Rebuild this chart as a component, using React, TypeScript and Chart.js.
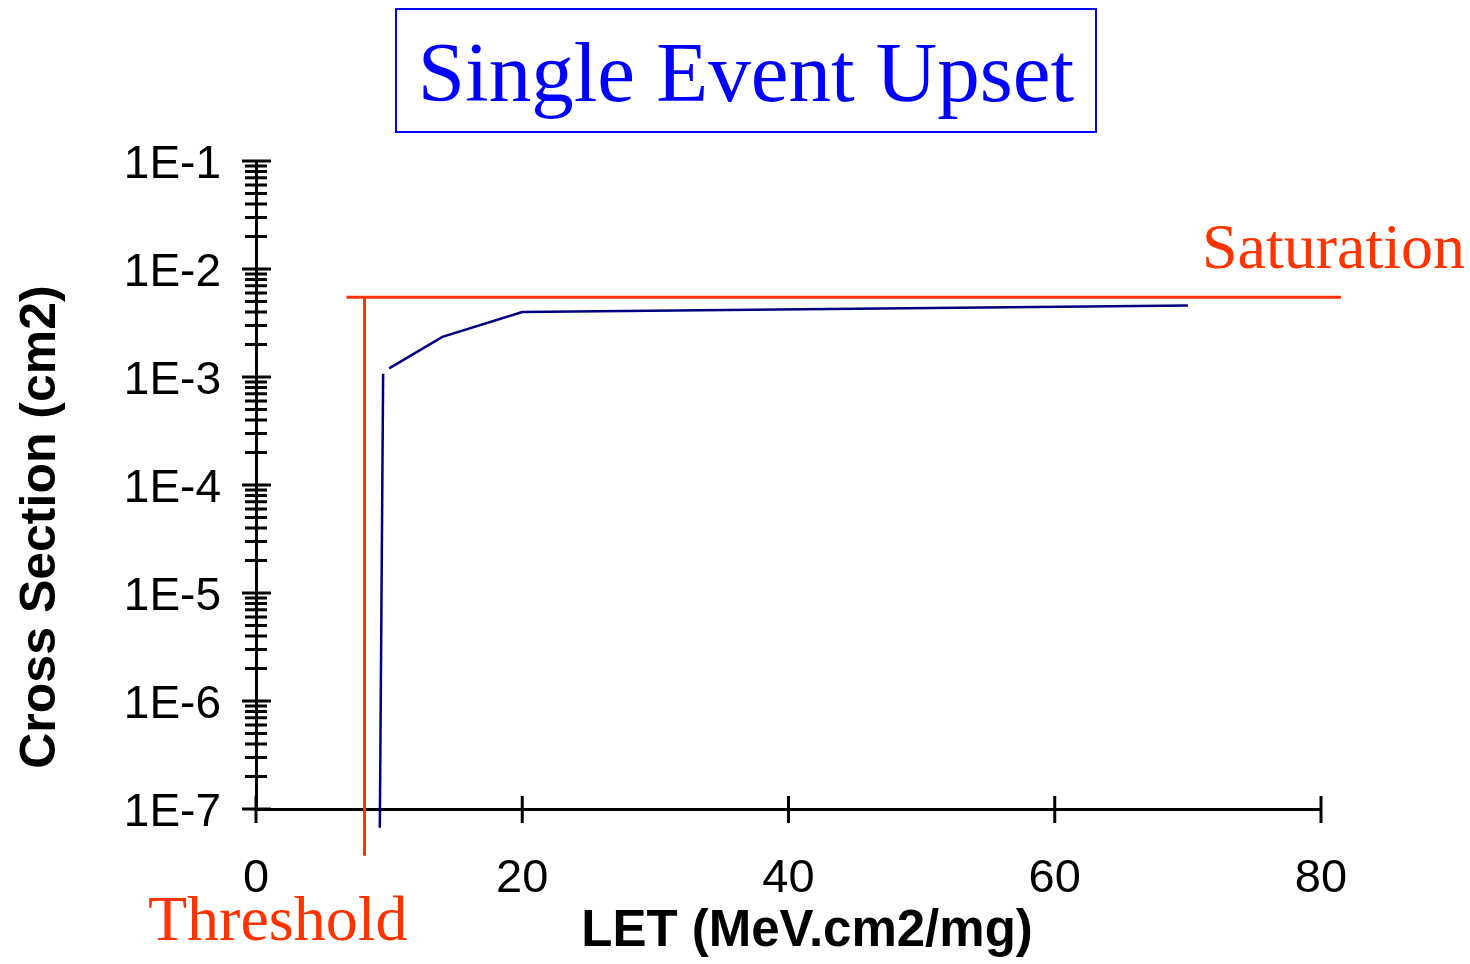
import React, { useEffect, useRef } from 'react';
import { Chart, registerables } from 'chart.js';

Chart.register(...registerables);

// ---- data ----
const riseLET = [9.3, 9.55];
const riseSigma = [6.7e-8, 1.07e-3];
const plateauLET = [10, 14, 20, 70];
const plateauSigma = [1.2e-3, 2.35e-3, 4.0e-3, 4.6e-3];
const thresholdLET = [8.15, 8.15];
const thresholdSigma = [3.7e-8, 5.47e-3];
const saturationLET = [6.8, 81.5];
const saturationSigma = [5.47e-3, 5.47e-3];

const xTicks = [0, 20, 40, 60, 80];
const yDecades = [-7, -6, -5, -4, -3, -2, -1];
const yTickLabels = ['1E-7', '1E-6', '1E-5', '1E-4', '1E-3', '1E-2', '1E-1'];

const titleText = 'Single Event Upset';
const xTitle = 'LET (MeV.cm2/mg)';
const yTitle = 'Cross Section (cm2)';
const saturationLabel = 'Saturation';
const thresholdLabel = 'Threshold';

const RED = '#FF3300';
const NAVY = '#000080';
const BLUE = '#0000FF';
const SANS = "'Liberation Sans', Arial, sans-serif";
const SERIF = "'Liberation Serif', 'Times New Roman', serif";

const toPts = (xs: number[], ys: number[]) => xs.map((x, i) => ({ x, y: ys[i] }));

function buildYTickValues() {
  const vals: { value: number; major: boolean }[] = [];
  for (let i = 0; i < yDecades.length; i++) {
    const base = Math.pow(10, yDecades[i]);
    vals.push({ value: base, major: true });
    if (i < yDecades.length - 1) {
      for (let m = 2; m <= 9; m++) vals.push({ value: m * base, major: false });
    }
  }
  return vals;
}

const decoPlugin = {
  id: 'deco',
  beforeDatasetsDraw(chart: any) {
    const { ctx } = chart;
    const xs = chart.scales.x;
    const ys = chart.scales.y;
    const ax = xs.getPixelForValue(0);
    const ay = ys.getPixelForValue(Math.pow(10, yDecades[0]));
    ctx.save();
    ctx.strokeStyle = '#000';
    ctx.lineWidth = 3;
    ctx.beginPath();
    for (const t of ys.ticks) {
      const py = ys.getPixelForValue(t.value);
      const major = t.major;
      const l1 = major ? 14 : 11;
      const l2 = major ? 15 : 11;
      ctx.moveTo(ax - l1, py);
      ctx.lineTo(ax + l2, py);
    }
    for (const v of xTicks) {
      const px = xs.getPixelForValue(v);
      ctx.moveTo(px, ay - 13);
      ctx.lineTo(px, ay + 14);
    }
    ctx.stroke();
    ctx.restore();
  },
  afterDraw(chart: any) {
    const { ctx } = chart;
    ctx.save();
    // title box
    ctx.strokeStyle = BLUE;
    ctx.lineWidth = 2;
    ctx.strokeRect(396, 9, 700, 123);
    ctx.fillStyle = BLUE;
    ctx.font = `85px ${SERIF}`;
    ctx.textAlign = 'center';
    ctx.textBaseline = 'alphabetic';
    ctx.fillText(titleText, 746, 101);
    // annotations
    ctx.fillStyle = RED;
    ctx.font = `64px ${SERIF}`;
    ctx.textAlign = 'left';
    ctx.fillText(saturationLabel, 1202, 268);
    ctx.fillText(thresholdLabel, 148, 940);
    // axis titles
    ctx.fillStyle = '#000';
    ctx.font = `bold 51px ${SANS}`;
    ctx.textAlign = 'center';
    ctx.fillText(xTitle, 807, 946);
    ctx.save();
    ctx.translate(55, 527);
    ctx.rotate(-Math.PI / 2);
    ctx.font = `bold 50px ${SANS}`;
    ctx.fillText(yTitle, 0, 0);
    ctx.restore();
    ctx.restore();
  },
};

export default function App() {
  const ref = useRef<HTMLCanvasElement | null>(null);
  useEffect(() => {
    document.body.style.margin = '0';
    const canvas = ref.current;
    if (!canvas) return;
    const yTickValues = buildYTickValues();
    const chart = new Chart(canvas, {
      type: 'line',
      data: {
        datasets: [
          {
            data: toPts(saturationLET, saturationSigma),
            borderColor: RED,
            borderWidth: 3,
            pointRadius: 0,
            clip: false as any,
          },
          {
            data: toPts(thresholdLET, thresholdSigma),
            borderColor: RED,
            borderWidth: 3,
            pointRadius: 0,
            clip: false as any,
          },
          {
            data: toPts(riseLET, riseSigma),
            borderColor: NAVY,
            borderWidth: 2.5,
            pointRadius: 0,
            clip: false as any,
          },
          {
            data: toPts(plateauLET, plateauSigma),
            borderColor: NAVY,
            borderWidth: 2.5,
            pointRadius: 0,
            clip: false as any,
          },
        ],
      },
      options: {
        responsive: false,
        animation: false,
        devicePixelRatio: 1,
        parsing: false as any,
        layout: { padding: { top: 161, right: 149, left: 0, bottom: 0 } },
        plugins: {
          legend: { display: false },
          tooltip: { enabled: false },
          title: { display: false },
        },
        scales: {
          x: {
            type: 'linear',
            min: 0,
            max: 80,
            afterBuildTicks: (scale: any) => {
              scale.ticks = xTicks.map((v) => ({ value: v }));
            },
            afterFit: (scale: any) => {
              scale.height = 155;
            },
            grid: { display: false, drawTicks: false },
            border: { display: true, color: '#000', width: 3 },
            ticks: {
              autoSkip: false,
              maxRotation: 0,
              padding: 42,
              color: '#000',
              font: { family: SANS, size: 47 },
              callback: (v: any) => String(v),
            },
          },
          y: {
            type: 'logarithmic',
            min: 1e-7,
            max: 1e-1,
            afterBuildTicks: (scale: any) => {
              scale.ticks = yTickValues.map((t) => ({ value: t.value, major: t.major }));
            },
            afterFit: (scale: any) => {
              scale.width = 256;
            },
            grid: { display: false, drawTicks: false },
            border: { display: true, color: '#000', width: 3 },
            ticks: {
              autoSkip: false,
              padding: 35,
              labelOffset: 4,
              color: '#000',
              font: { family: SANS, size: 46 },
              callback: (v: any) => {
                const val = Number(v);
                for (let i = 0; i < yDecades.length; i++) {
                  const b = Math.pow(10, yDecades[i]);
                  if (Math.abs(val - b) / b < 1e-6) return yTickLabels[i];
                }
                return '';
              },
            },
          },
        },
      },
      plugins: [decoPlugin],
    });
    return () => chart.destroy();
  }, []);
  return (
    <div style={{ position: 'absolute', left: 0, top: 0, width: 1470, height: 964, background: '#fff' }}>
      <canvas ref={ref} width={1470} height={964} style={{ width: 1470, height: 964, display: 'block' }} />
    </div>
  );
}
